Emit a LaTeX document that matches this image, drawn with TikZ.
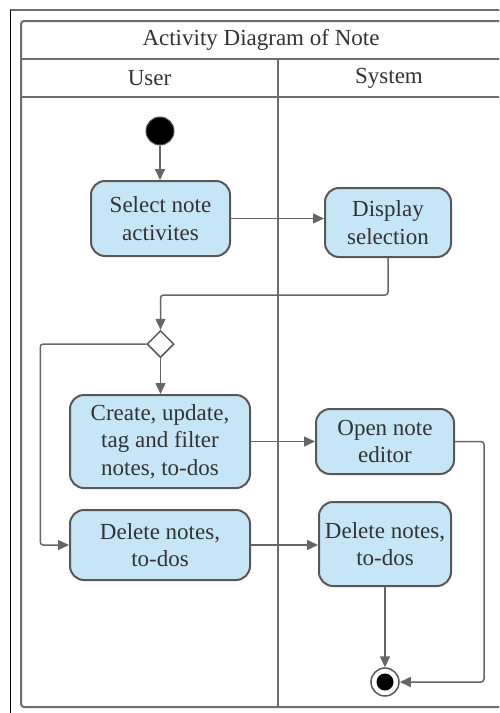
\documentclass[tikz,border=0pt]{standalone}
\usepackage{fontspec}
\setmainfont{Liberation Serif}
\usetikzlibrary{shapes.geometric,arrows.meta,calc}
\definecolor{actblue}{RGB}{198,229,246}
\definecolor{bordgray}{RGB}{88,88,88}
\definecolor{linegray}{RGB}{102,102,102}
\definecolor{framegray}{RGB}{110,110,110}
\definecolor{txtgray}{RGB}{51,51,51}
\tikzset{
  act/.style={draw=bordgray, line width=2pt, fill=actblue, rounded corners=14pt,
    align=center, text=txtgray, font=\fontsize{23}{27.5}\selectfont, inner sep=0pt},
  lbl/.style={text=txtgray, font=\fontsize{23}{27.5}\selectfont, inner sep=0pt},
  flow/.style={draw=linegray, line width=1.5pt, rounded corners=3pt,
    -{Triangle[length=11pt,width=10pt]}},
  frame/.style={draw=framegray, line width=2pt}
}
\begin{document}
\begin{tikzpicture}[x=1pt,y=-1pt]
\useasboundingbox (0,0) rectangle (499,713);
\clip (0,0) rectangle (499,713);
\fill[white] (0,0) rectangle (499,713);
% outer page border
\draw[framegray, line width=1.5pt] (10,10) -- (520,10);
\draw[black, line width=1pt] (10,10) -- (10,720);
% swimlane frame
\draw[frame, rounded corners=3pt] (21,21) rectangle (504,707);
\draw[frame] (21,59) -- (504,59);
\draw[frame] (21,97) -- (504,97);
\draw[frame] (278,59) -- (278,707);
\node[lbl] (title) at (261,40) {Activity Diagram of Note};
\node[lbl] (user) at (149.5,78) {User};
\node[lbl] (system) at (389,78) {System};
% nodes
\node[circle, fill=black, draw=bordgray, line width=1pt, minimum size=28pt, inner sep=0pt] (start) at (160,131) {};
\node[act, minimum width=139pt, minimum height=75pt] (sel) at (160.5,218.5) {Select note\\activites};
\node[act, minimum width=126pt, minimum height=69pt] (disp) at (388,222.5) {Display\\selection};
\node[diamond, aspect=1, draw=bordgray, fill=white, line width=1.5pt, minimum size=27pt, inner sep=0pt] (dia) at (160.5,344) {};
\node[act, minimum width=180pt, minimum height=93pt] (create) at (160,441.5) {Create, update,\\tag and filter\\notes, to-dos};
\node[act, minimum width=180pt, minimum height=70pt] (delu) at (160,545) {Delete notes,\\to-dos};
\node[act, minimum width=138pt, minimum height=65pt] (open) at (385,441.5) {Open note\\editor};
\node[act, minimum width=132pt, minimum height=84pt] (dels) at (385,544) {Delete notes,\\to-dos};
\node[circle, fill=white, draw=bordgray, line width=1.5pt, minimum size=28pt, inner sep=0pt] (end) at (385,682) {};
\node[circle, fill=black, minimum size=17pt, inner sep=0pt] (endin) at (end) {};
% connectors
\draw[flow] (start) -- (start |- sel.north);
\draw[flow] (sel.east) -- (disp.west |- sel.east);
\draw[flow] (disp.south) -- ++(0,37) -| (dia.north);
\draw[flow] (dia.south) -- (dia.south |- create.north);
\draw[flow] (dia.west) -- ++(-106,0) |- (delu.west);
\draw[flow] (create.east) -- (open.west |- create.east);
\draw[flow] (delu.east) -- (dels.west |- delu.east);
\draw[flow] (dels.south) -- (end.north);
\draw[flow] (open.east) -- ++(29,0) |- (end.east);
\end{tikzpicture}
\end{document}
